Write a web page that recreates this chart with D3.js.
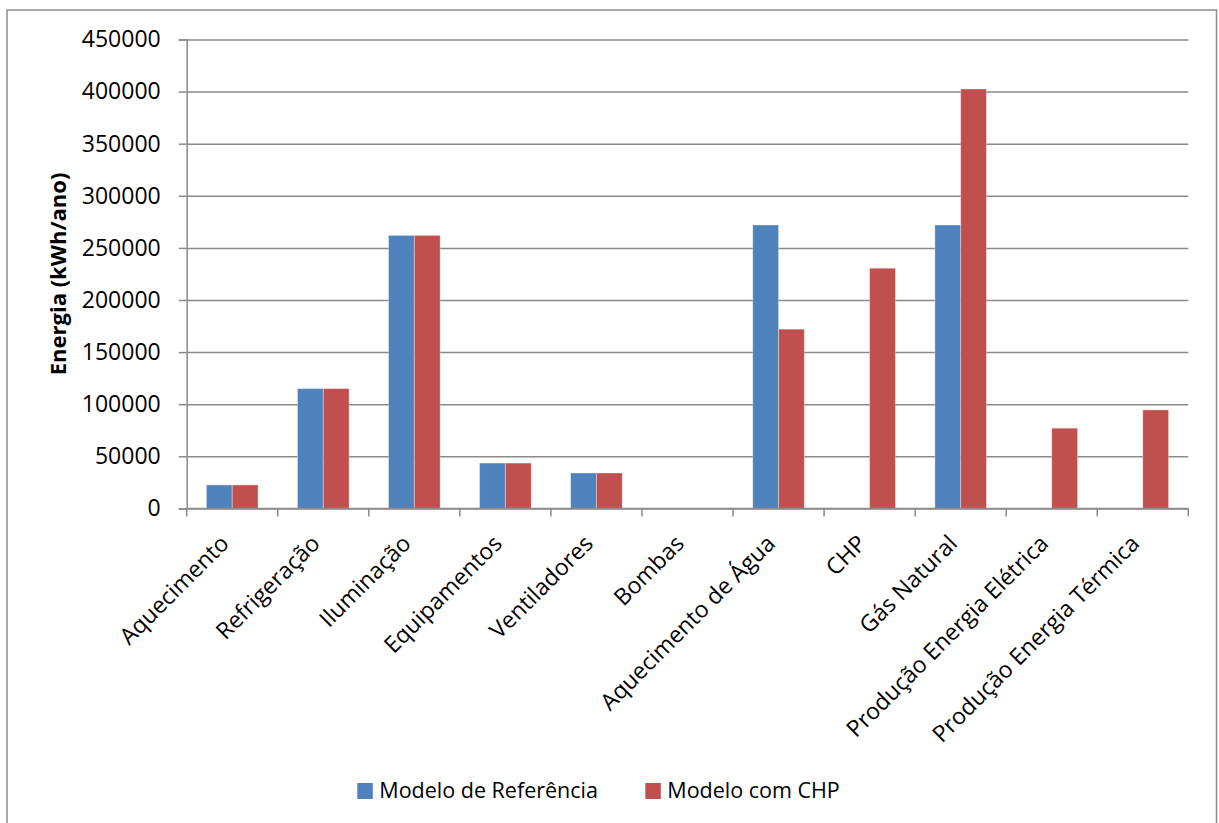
<!DOCTYPE html>
<html>
<head>
<meta charset="utf-8">
<script src="https://cdn.jsdelivr.net/npm/d3@7"></script>
<style>
  html, body { margin: 0; padding: 0; background: #fff; }
  svg { display: block; font-family: "Open Sans", "DejaVu Sans", sans-serif; }
</style>
</head>
<body>
<svg id="chart" width="1219" height="823"></svg>
<script>
// Energy use by end use (kWh/year): reference model vs model with CHP
const categories = [
  "Aquecimento", "Refrigeração", "Iluminação", "Equipamentos", "Ventiladores",
  "Bombas", "Aquecimento de Água", "CHP", "Gás Natural",
  "Produção Energia Elétrica", "Produção Energia Térmica"
];
const seriesNames = ["Modelo de Referência", "Modelo com CHP"];
const referencia = [22500, 115000, 262000, 43500, 34000, 0, 272000, 0, 272000, 0, 0];
const comCHP     = [22500, 115000, 262000, 43500, 34000, 0, 172000, 230500, 402500, 77000, 94500];
const yTicks = [0, 50000, 100000, 150000, 200000, 250000, 300000, 350000, 400000, 450000];
const colors = ["#4f81bd", "#c0504d"];
const yTitle = "Energia (kWh/ano)";

const svg = d3.select("#chart");
const gridColor = "#8a8a8a";

// outer chart frame
svg.append("rect")
  .attr("x", 7).attr("y", 10)
  .attr("width", 1209.5).attr("height", 830)
  .attr("fill", "#fff")
  .attr("stroke", "#8c8c8c").attr("stroke-width", 1.5);

const plot = { left: 186.7, right: 1188.3, top: 39.5, bottom: 508.4 };

const y = d3.scaleLinear()
  .domain([0, 450000])
  .range([plot.bottom, plot.top]);

const x0 = d3.scaleBand()
  .domain(categories)
  .range([plot.left, plot.right])
  .paddingInner(0.433)
  .paddingOuter(0.2165);

const x1 = d3.scaleBand()
  .domain(seriesNames)
  .range([0, x0.bandwidth()]);

// horizontal gridlines
const grid = svg.append("g")
  .attr("transform", `translate(${plot.left},0)`)
  .call(d3.axisLeft(y).tickValues(yTicks).tickSize(-(plot.right - plot.left)).tickFormat(""));
grid.select(".domain").remove();
grid.selectAll(".tick line").attr("stroke", gridColor).attr("stroke-width", 1.5);

// y axis with labels
const yAxis = svg.append("g")
  .attr("transform", `translate(${plot.left},0)`)
  .call(d3.axisLeft(y).tickValues(yTicks).tickSize(8).tickPadding(18).tickFormat(d3.format("d")));
yAxis.select(".domain").attr("stroke", gridColor).attr("stroke-width", 1.5);
yAxis.selectAll(".tick line").attr("stroke", gridColor).attr("stroke-width", 1.5);
yAxis.selectAll(".tick text")
  .attr("font-size", 23)
  .attr("font-family", "'Open Sans', sans-serif")
  .attr("fill", "#000");

// bars
const rows = categories.map((c, i) => ({ cat: c, vals: [referencia[i], comCHP[i]] }));
const groups = svg.append("g").selectAll("g")
  .data(rows)
  .join("g")
  .attr("transform", d => `translate(${x0(d.cat)},0)`);

groups.selectAll("rect")
  .data(d => d.vals.map((v, k) => ({ key: seriesNames[k], v, k })))
  .join("rect")
  .filter(d => d.v > 0)
  .attr("x", d => x1(d.key))
  .attr("y", d => y(d.v))
  .attr("width", x1.bandwidth())
  .attr("height", d => y(0) - y(d.v))
  .attr("fill", d => colors[d.k])
  .attr("stroke", "#ffffff")
  .attr("stroke-opacity", 0.35)
  .attr("stroke-width", 1);

// x axis baseline and category boundary ticks
svg.append("line")
  .attr("x1", plot.left).attr("x2", plot.right)
  .attr("y1", y(0)).attr("y2", y(0))
  .attr("stroke", gridColor).attr("stroke-width", 1.5);

const boundaries = d3.range(categories.length + 1).map(i => plot.left + i * x0.step());
svg.append("g").selectAll("line")
  .data(boundaries)
  .join("line")
  .attr("x1", d => d).attr("x2", d => d)
  .attr("y1", y(0)).attr("y2", y(0) + 8)
  .attr("stroke", gridColor).attr("stroke-width", 1.5);

// rotated category labels
svg.append("g").selectAll("text")
  .data(categories)
  .join("text")
  .attr("transform", d => `translate(${x0(d) + x0.bandwidth() / 2 - 2},545) rotate(-45)`)
  .attr("text-anchor", "end")
  .attr("font-size", 23)
  .attr("fill", "#000")
  .text(d => d);

// y axis title
svg.append("text")
  .attr("transform", `translate(66,${(plot.top + plot.bottom) / 2}) rotate(-90)`)
  .attr("text-anchor", "middle")
  .attr("font-size", 22)
  .attr("font-weight", "bold")
  .attr("fill", "#000")
  .text(yTitle);

// legend
const legendItems = [
  { name: seriesNames[0], color: colors[0], x: 357.3 },
  { name: seriesNames[1], color: colors[1], x: 645.3 }
];
const legend = svg.append("g").selectAll("g")
  .data(legendItems)
  .join("g")
  .attr("transform", d => `translate(${d.x},0)`);
legend.append("rect")
  .attr("x", 0).attr("y", 783)
  .attr("width", 15.5).attr("height", 16)
  .attr("fill", d => d.color);
legend.append("text")
  .attr("x", 22).attr("y", 798)
  .attr("font-size", 21.5)
  .attr("fill", "#000")
  .text(d => d.name);
</script>
</body>
</html>
